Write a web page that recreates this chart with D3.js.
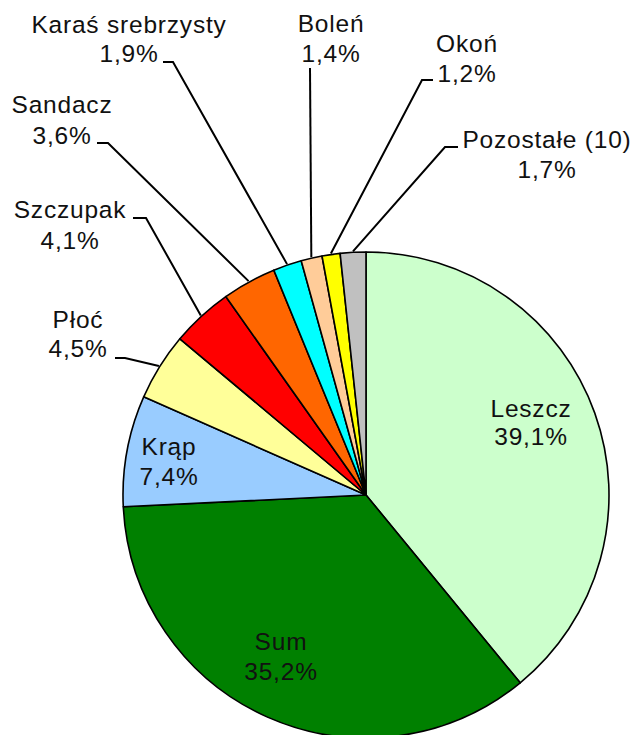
<!DOCTYPE html>
<html>
<head>
<meta charset="utf-8">
<script src="https://cdn.jsdelivr.net/npm/d3@7"></script>
<style>
  html, body { margin: 0; padding: 0; background: #fff; }
  svg { display: block; }
  text { font-family: "Liberation Sans", Arial, sans-serif; font-size: 24.5px; letter-spacing: 0.8px; fill: #111; }
</style>
</head>
<body>
<svg id="chart" width="637" height="735"></svg>
<script>
// ---- data ----
const categories = ["Leszcz", "Sum", "Krąp", "Płoć", "Szczupak", "Sandacz", "Karaś srebrzysty", "Boleń", "Okoń", "Pozostałe (10)"];
const values = [39.1, 35.2, 7.4, 4.5, 4.1, 3.6, 1.9, 1.4, 1.2, 1.7];
const valueLabels = ["39,1%", "35,2%", "7,4%", "4,5%", "4,1%", "3,6%", "1,9%", "1,4%", "1,2%", "1,7%"];
const colors = ["#ccffcc", "#008000", "#99ccff", "#ffff99", "#ff0000", "#ff6600", "#00ffff", "#ffcc99", "#ffff00", "#c0c0c0"];

// ---- layout ----
const cx = 366, cy = 495, R = 243;
// label layout: text centre x, first baseline y, line gap, and leader elbow points (outside labels)
const labelLayout = [
  { x: 531, y: 417, gap: 28 },
  { x: 281, y: 650, gap: 30 },
  { x: 169, y: 455, gap: 30 },
  { x: 78,  y: 328, gap: 29, leader: [[115, 358], [125, 358]] },
  { x: 70,  y: 218, gap: 31, leader: [[133, 218], [146, 218]] },
  { x: 62,  y: 113, gap: 31, leader: [[97, 143], [108, 143]] },
  { x: 129, y: 33,  gap: 29, leader: [[163, 62], [173, 62]] },
  { x: 331, y: 32,  gap: 30, leader: [[310, 68]] },
  { x: 467, y: 52,  gap: 30, leader: [[433, 80], [422, 80]] },
  { x: 547, y: 148, gap: 30, leader: [[458, 147], [445, 147]] }
];

const data = categories.map((c, i) => ({ name: c, value: values[i], label: valueLabels[i], color: colors[i], layout: labelLayout[i] }));

const svg = d3.select("#chart");
const g = svg.append("g").attr("transform", `translate(${cx},${cy})`);

const pie = d3.pie().value(d => d.value).sort(null).startAngle(0).endAngle(2 * Math.PI);
const arcs = pie(data);
const arc = d3.arc().innerRadius(0).outerRadius(R);

g.selectAll("path.slice")
  .data(arcs)
  .join("path")
  .attr("class", "slice")
  .attr("d", arc)
  .attr("fill", d => d.data.color)
  .attr("stroke", "#000")
  .attr("stroke-width", 1.6)
  .attr("stroke-linejoin", "round");

// leader lines
const line = d3.line();
arcs.forEach(a => {
  const L = a.data.layout;
  if (!L.leader) return;
  const mid = (a.startAngle + a.endAngle) / 2;
  const end = [cx + Math.sin(mid) * (R + 1), cy - Math.cos(mid) * (R + 1)];
  const pts = L.leader.concat([end]);
  svg.append("path")
    .attr("d", line(pts))
    .attr("fill", "none")
    .attr("stroke", "#000")
    .attr("stroke-width", 2);
});

// labels
arcs.forEach(a => {
  const L = a.data.layout;
  const t = svg.append("text").attr("text-anchor", "middle");
  t.append("tspan").attr("x", L.x).attr("y", L.y).text(a.data.name);
  t.append("tspan").attr("x", L.x).attr("y", L.y + L.gap).text(a.data.label);
});
</script>
</body>
</html>
